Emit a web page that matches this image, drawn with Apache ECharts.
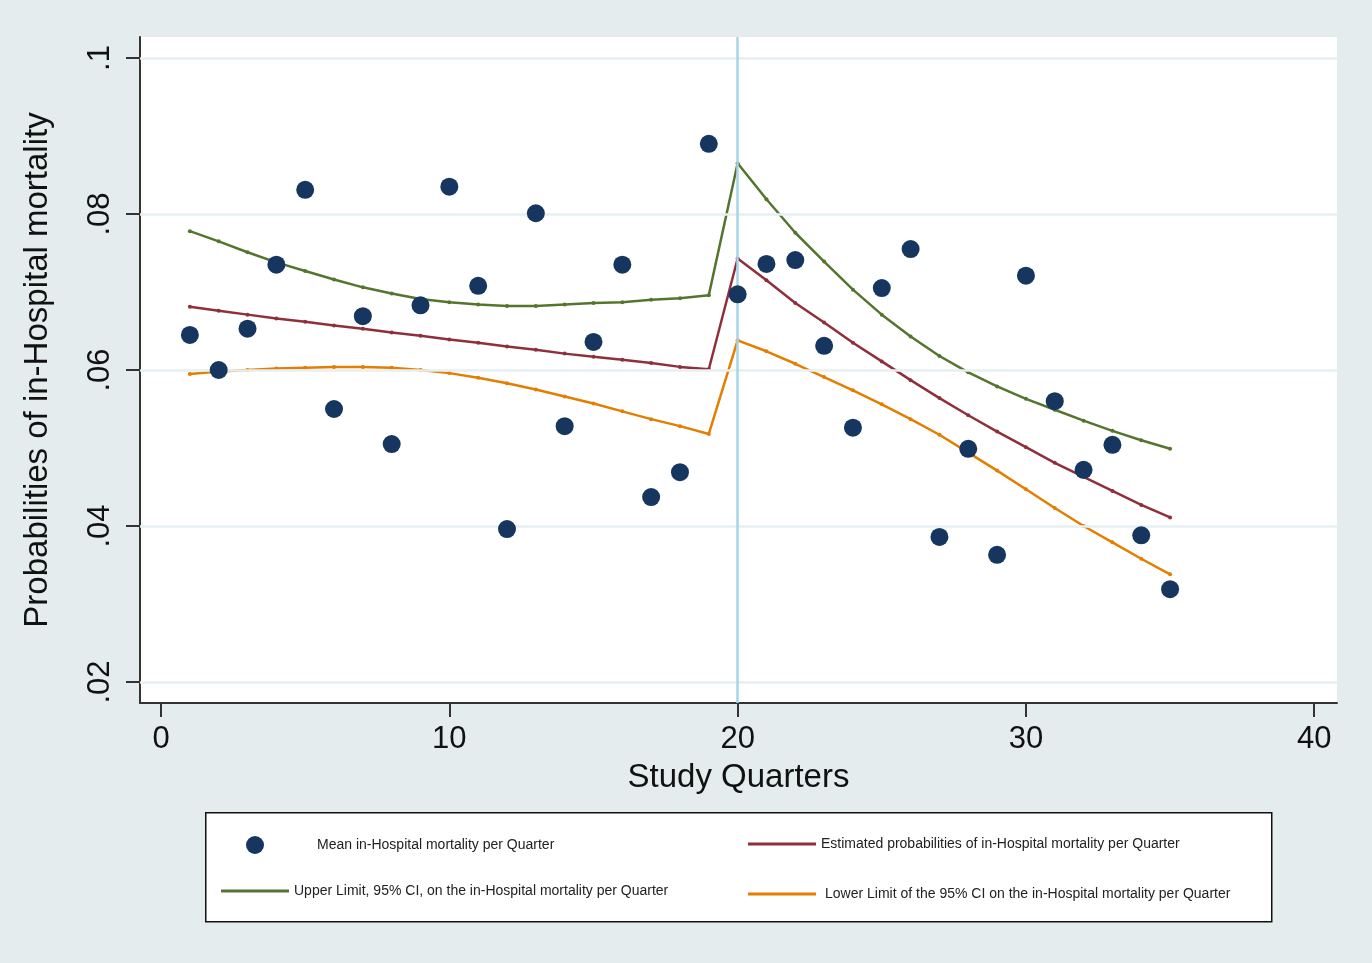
<!DOCTYPE html>
<html>
<head>
<meta charset="utf-8">
<script src="https://cdn.jsdelivr.net/npm/echarts@6/dist/echarts.min.js"></script>
<style>
html,body{margin:0;padding:0;background:#fff;}
#chart{position:absolute;left:0;top:0;width:1372px;height:963px;}
</style>
</head>
<body>
<div id="chart"></div>
<script>
// Study quarters
const quarters = [1,2,3,4,5,6,7,8,9,10,11,12,13,14,15,16,17,18,19,20,21,22,23,24,25,26,27,28,29,30,31,32,33,34,35];
// Mean in-hospital mortality per quarter (dots)
const meanMortality = [0.0645,0.0600,0.0653,0.0735,0.0831,0.0550,0.0669,0.0505,0.0683,0.0835,0.0708,0.0396,0.0801,0.0528,0.0636,0.0735,0.0437,0.0469,0.0890,0.0697,0.0736,0.0741,0.0631,0.0526,0.0705,0.0755,0.0386,0.0499,0.0363,0.0721,0.0560,0.0472,0.0504,0.0388,0.0319];
// Estimated probabilities
const estimated = [0.0681,0.0676,0.0671,0.0666,0.0662,0.0657,0.0653,0.0648,0.0644,0.0639,0.0635,0.0630,0.0626,0.0621,0.0617,0.0613,0.0609,0.0604,0.0601,0.0743,0.0715,0.0686,0.0661,0.0635,0.0611,0.0587,0.0564,0.0542,0.0521,0.0501,0.0481,0.0463,0.0445,0.0427,0.0411];
// Upper limit 95% CI
const upperCI = [0.0778,0.0765,0.0751,0.0738,0.0727,0.0716,0.0706,0.0698,0.0691,0.0687,0.0684,0.0682,0.0682,0.0684,0.0686,0.0687,0.0690,0.0692,0.0696,0.0865,0.0819,0.0776,0.0739,0.0703,0.0671,0.0643,0.0618,0.0597,0.0579,0.0563,0.0549,0.0535,0.0522,0.0510,0.0499];
// Lower limit 95% CI
const lowerCI = [0.0595,0.0598,0.0600,0.0602,0.0603,0.0604,0.0604,0.0603,0.0600,0.0596,0.0590,0.0583,0.0575,0.0566,0.0557,0.0547,0.0537,0.0528,0.0518,0.0638,0.0624,0.0608,0.0591,0.0574,0.0556,0.0537,0.0517,0.0494,0.0471,0.0447,0.0423,0.0400,0.0379,0.0358,0.0338];
// Tick labels
const xTicks = [0,10,20,30,40];
const yTicks = [0.02,0.04,0.06,0.08,0.10];
const yTickLabels = ['.02','.04','.06','.08','.1'];
const interventionQuarter = 20;

const names = {
  mean: 'Mean in-Hospital mortality per Quarter',
  est: 'Estimated probabilities of in-Hospital mortality per Quarter',
  up: 'Upper Limit, 95% CI, on the in-Hospital mortality per Quarter',
  low: 'Lower Limit of the 95% CI on the in-Hospital mortality per Quarter'
};
const colors = {mean:'#16365f', est:'#8f2f3a', up:'#55752f', low:'#e37e00'};

const pair = arr => quarters.map((q,i)=>[q, arr[i]]);

const chart = echarts.init(document.getElementById('chart'), null, {renderer:'canvas'});
const font = 'Liberation Sans, Arial, Helvetica, sans-serif';
const legendText = {fontFamily: font, fontSize: 14, color: '#222'};

const option = {
  animation: false,
  backgroundColor: '#e4eced',
  textStyle: {fontFamily: font},
  grid: {left: 140, top: 37, right: 35, bottom: 260, show: true, backgroundColor: '#ffffff', borderWidth: 0, containLabel: false},
  xAxis: {
    type: 'value', min: -0.73, max: 40.79,
    name: 'Study Quarters', nameLocation: 'middle', nameGap: 58,
    nameTextStyle: {fontSize: 33, color: '#111', fontFamily: font},
    axisLine: {show: true, onZero: false, lineStyle: {color: '#333', width: 2}},
    axisTick: {show: true, length: 14, lineStyle: {color: '#333', width: 2}, customValues: xTicks},
    axisLabel: {fontSize: 31, color: '#111', margin: 21, customValues: xTicks, formatter: v => String(v)},
    splitLine: {show: false}
  },
  yAxis: {
    type: 'value', min: 0.0173, max: 0.1027,
    name: 'Probabilities of in-Hospital mortality', nameLocation: 'middle', nameGap: 86, nameRotate: 90,
    nameTextStyle: {fontSize: 33, color: '#111', fontFamily: font},
    axisLine: {show: true, onZero: false, lineStyle: {color: '#333', width: 2}},
    axisTick: {show: true, length: 14, lineStyle: {color: '#333', width: 2}, customValues: yTicks},
    axisLabel: {fontSize: 31, color: '#111', margin: 24, rotate: 90, customValues: yTicks,
      formatter: v => { const i = yTicks.findIndex(t => Math.abs(t - v) < 1e-9); return i >= 0 ? yTickLabels[i] : ''; }},
    splitLine: {show: false}
  },
  legend: [
    {data: [names.mean], left: 246, top: 836, padding: 0, itemWidth: 18, itemHeight: 18, icon: 'circle',
      textStyle: Object.assign({}, legendText, {padding: [0, 0, 0, 48]})},
    {data: [names.est], left: 748, top: 837, padding: 0, itemWidth: 68, itemHeight: 3, icon: 'rect', textStyle: legendText},
    {data: [names.up], left: 221, top: 884, padding: 0, itemWidth: 68, itemHeight: 3, icon: 'rect', textStyle: legendText},
    {data: [names.low], left: 748, top: 887, padding: 0, itemWidth: 68, itemHeight: 3, icon: 'rect',
      textStyle: Object.assign({}, legendText, {padding: [0, 0, 0, 4]})}
  ],
  graphic: [
    {type: 'rect', left: 205, top: 812, z: -1, shape: {width: 1066, height: 109}, style: {fill: '#ffffff', stroke: '#111', lineWidth: 1.5}}
  ],
  series: [
    {
      type: 'line', name: '_grid', data: [], silent: true, z: 1,
      markLine: {
        silent: true, symbol: ['none','none'], label: {show: false},
        lineStyle: {color: '#e6eff2', width: 2.5, type: 'solid'},
        data: yTicks.map(v => ({yAxis: v})).concat([{xAxis: interventionQuarter, lineStyle: {color: '#a9d4e6', width: 2.5, type: 'solid'}}])
      }
    },
    {
      type: 'scatter', name: names.mean, data: pair(meanMortality), symbol: 'circle', symbolSize: 18, z: 5,
      itemStyle: {color: colors.mean, opacity: 1}
    },
    {
      type: 'line', name: names.est, data: pair(estimated), symbol: 'circle', symbolSize: 4, showSymbol: true, z: 4,
      lineStyle: {color: colors.est, width: 2.5}, itemStyle: {color: colors.est}
    },
    {
      type: 'line', name: names.up, data: pair(upperCI), symbol: 'circle', symbolSize: 4, showSymbol: true, z: 4,
      lineStyle: {color: colors.up, width: 2.5}, itemStyle: {color: colors.up}
    },
    {
      type: 'line', name: names.low, data: pair(lowerCI), symbol: 'circle', symbolSize: 4, showSymbol: true, z: 4,
      lineStyle: {color: colors.low, width: 2.5}, itemStyle: {color: colors.low}
    }
  ]
};
chart.setOption(option);
</script>
</body>
</html>
